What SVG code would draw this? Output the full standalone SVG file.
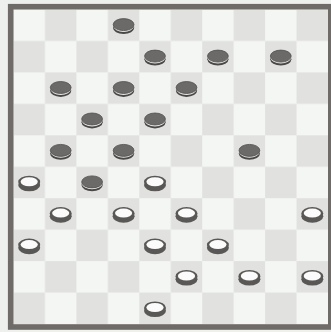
<svg xmlns="http://www.w3.org/2000/svg" xmlns:xlink="http://www.w3.org/1999/xlink" width="331" height="332" viewBox="0 0 331 332">
<style>
.bg{fill:#eef0ee}
.border{fill:none;stroke:#6f6b68;stroke-width:5.6}
</style>
<defs>
<pattern id="checker" x="13.5" y="9.5" width="62.9" height="62.9" patternUnits="userSpaceOnUse">
<rect width="62.9" height="62.9" fill="#f4f6f4"/>
<rect x="31.45" y="0" width="31.45" height="31.45" fill="#e1e2e0"/>
<rect x="0" y="31.45" width="31.45" height="31.45" fill="#e1e2e0"/>
</pattern>
<g id="black">
<ellipse cx="0" cy="2.6" rx="10.6" ry="6.2" fill="#4a4846"/>
<ellipse cx="0" cy="1" rx="10.2" ry="5.8" fill="#ebebea"/>
<ellipse cx="0" cy="-0.6" rx="10.4" ry="6" fill="#6c6a68" stroke="#4f4d4b" stroke-width="0.8"/>
</g>
<g id="white">
<ellipse cx="0" cy="2.4" rx="11" ry="6.4" fill="#5a5856"/>
<ellipse cx="0" cy="-0.4" rx="11" ry="6.4" fill="#5a5856"/>
<ellipse cx="0" cy="-0.8" rx="8.6" ry="4.5" fill="#fbfbfb"/>
</g>
</defs>
<rect class="bg" width="331" height="332"/>
<rect id="board" x="13.5" y="9.5" width="314.5" height="314.5" fill="url(#checker)"/>
<rect class="border" x="10.7" y="6.7" width="320.1" height="320.3"/>
<g id="black-pieces">
<use xlink:href="#black" x="123.6" y="25.2"/>
<use xlink:href="#black" x="155.0" y="56.7"/>
<use xlink:href="#black" x="217.9" y="56.7"/>
<use xlink:href="#black" x="280.8" y="56.7"/>
<use xlink:href="#black" x="60.7" y="88.1"/>
<use xlink:href="#black" x="123.6" y="88.1"/>
<use xlink:href="#black" x="186.5" y="88.1"/>
<use xlink:href="#black" x="92.1" y="119.6"/>
<use xlink:href="#black" x="155.0" y="119.6"/>
<use xlink:href="#black" x="60.7" y="151.0"/>
<use xlink:href="#black" x="123.6" y="151.0"/>
<use xlink:href="#black" x="249.4" y="151.0"/>
<use xlink:href="#black" x="92.1" y="182.5"/>
</g>
<g id="white-pieces">
<use xlink:href="#white" x="29.2" y="182.5"/>
<use xlink:href="#white" x="155.0" y="182.5"/>
<use xlink:href="#white" x="60.7" y="213.9"/>
<use xlink:href="#white" x="123.6" y="213.9"/>
<use xlink:href="#white" x="186.5" y="213.9"/>
<use xlink:href="#white" x="312.3" y="213.9"/>
<use xlink:href="#white" x="29.2" y="245.4"/>
<use xlink:href="#white" x="155.0" y="245.4"/>
<use xlink:href="#white" x="217.9" y="245.4"/>
<use xlink:href="#white" x="186.5" y="276.8"/>
<use xlink:href="#white" x="249.4" y="276.8"/>
<use xlink:href="#white" x="312.3" y="276.8"/>
<use xlink:href="#white" x="155.0" y="308.3"/>
</g>
</svg>
